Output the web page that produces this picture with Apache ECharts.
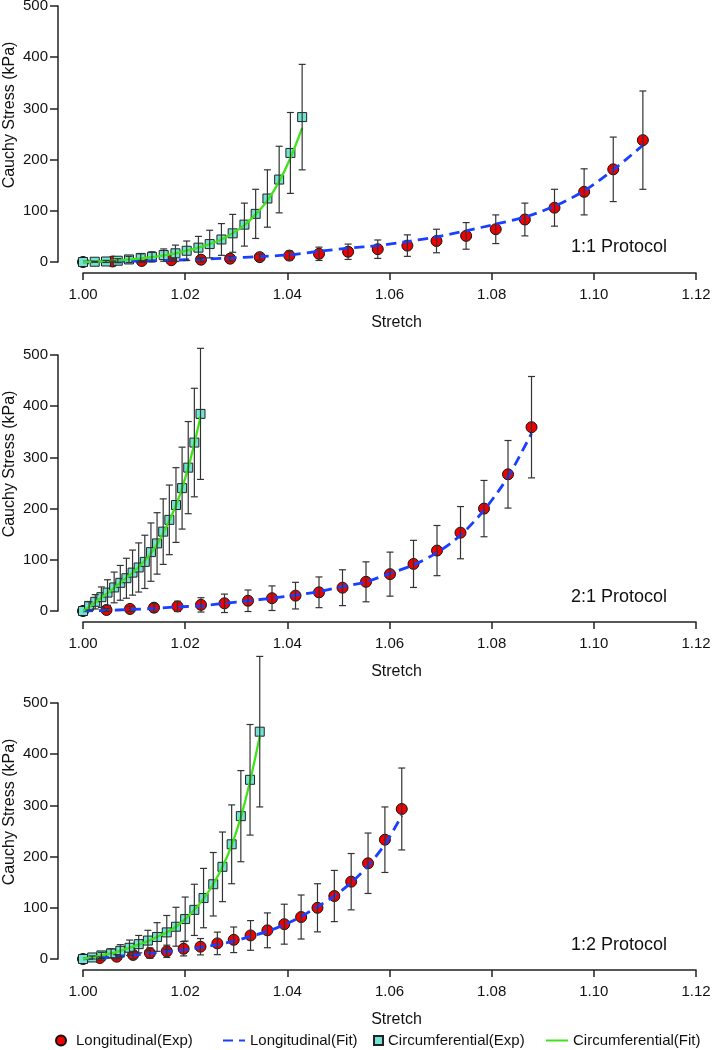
<!DOCTYPE html>
<html>
<head>
<meta charset="utf-8">
<script src="https://cdn.jsdelivr.net/npm/echarts@6/dist/echarts.min.js"></script>
<style>
html,body{margin:0;padding:0;background:#fff;}
#chart{width:713px;height:1050px;}
</style>
</head>
<body>
<div id="chart"></div>
<script>
// ---------- DATA ----------
const seriesNames = ['Longitudinal(Exp)', 'Longitudinal(Fit)', 'Circumferential(Exp)', 'Circumferential(Fit)'];
const protocols = ['1:1 Protocol', '2:1 Protocol', '1:2 Protocol'];
const xAxisTitle = 'Stretch';
const yAxisTitle = 'Cauchy Stress (kPa)';

// Panel 1 (1:1)
const long1X = [1.0000,1.0058,1.0115,1.0173,1.0231,1.0288,1.0346,1.0404,1.0462,1.0519,1.0577,1.0635,1.0692,1.0750,1.0808,1.0865,1.0923,1.0981,1.1038,1.1096];
const long1Y = [0,1,2,3.5,4.5,6.5,9.5,12.5,16,20,25,32,41,51,64,83,106,137,181,238];
const long1Err = [0,1,1,2,4,5,6,9,13,15,18,21,23,26,28,32,36,45,63,96];
const long1Fit = [0,1,2,3.5,5.5,8,10.5,14,21,27,32,40,49,61,74,88,109,139,180,228];
const circ1X = [1.0000,1.0023,1.0045,1.0068,1.0090,1.0113,1.0135,1.0158,1.0181,1.0203,1.0226,1.0248,1.0271,1.0293,1.0316,1.0338,1.0361,1.0384,1.0406,1.0429];
const circ1Y = [0,0.5,1,2.5,5,8,10,13.5,17,22,28,35,44,56,73,94,124,161,213,283];
const circ1Err = [0,1,2,4,6,8,10,12,16,19,22,27,31,37,42,48,56,65,79,103];
const circ1Fit = [0,0.5,1.5,3,5,7,9.5,13,17,22,28,35,44,56,72,93,120,157,203,262];

// Panel 2 (2:1)
const long2X = [1.0000,1.0046,1.0092,1.0139,1.0185,1.0231,1.0277,1.0323,1.0370,1.0416,1.0462,1.0508,1.0554,1.0601,1.0647,1.0693,1.0739,1.0785,1.0832,1.0878];
const long2Y = [0,2,4,6.5,9,12,15,20,25,30,36.5,45.5,57,72,92,118,153,200,267,359];
const long2Err = [0,3,5,8,10,14,18,21,24,26,30,35,39,43,46,49,51,55,66,99];
const long2Fit = [0,1,3,5,8,10,15,20,25,31,38,47.5,57,73.5,90,114,148,197,262,347];
const circ2X = [1.0000,1.0012,1.0024,1.0036,1.0048,1.0061,1.0073,1.0085,1.0097,1.0109,1.0121,1.0133,1.0145,1.0157,1.0169,1.0182,1.0194,1.0206,1.0218,1.0230];
const circ2Y = [0,10,18,27,36,46,55,64,75,85,96,115,132,155,178,207,240,280,329,385];
const circ2Err = [0,8,14,20,25,30,34,39,44,48,52,57,60,64,68,73,80,90,106,128];
const circ2Fit = [0,8,17,26,35,45,55,65,75,86,98,113,130,152,177,206,240,280,327,380];

// Panel 3 (1:2)
const long3X = [1.0000,1.0033,1.0066,1.0098,1.0131,1.0164,1.0197,1.0230,1.0263,1.0295,1.0328,1.0361,1.0394,1.0427,1.0459,1.0492,1.0525,1.0558,1.0591,1.0624];
const long3Y = [0,2,4.5,8,11.5,15,20,24,30.5,37.5,46,56,68,82,100,123,151,187,233,293];
const long3Err = [0,2,4,7,10,12,14,16,22,25,29,34,39,43,47,50,55,59,64,80];
const long3Fit = [0,2,4.5,7.5,11,14.5,18,22.5,28,35,44,54,67,83,102,123,149,182,224,280];
const circ3X = [1.0000,1.0018,1.0036,1.0055,1.0073,1.0091,1.0109,1.0127,1.0145,1.0164,1.0182,1.0200,1.0218,1.0236,1.0255,1.0273,1.0291,1.0309,1.0327,1.0346];
const circ3Y = [0,3,7,11,16,22,29,36,43,52,63,78,96,119,146,180,224,279,350,444];
const circ3Err = [0,3,6,9,12,15,17,20,28,33,38,43,50,58,62,68,77,89,108,147];
const circ3Fit = [0,3,7,11,16,22,28,35,43,52,63,78,96,118,146,180,222,277,347,435];

const xMin = 1.00, xMax = 1.12, xInterval = 0.02;
const yMin = 0, yMax = 500, yInterval = 100;

// ---------- CHART ----------
const panels = [
  {lx: long1X, ly: long1Y, le: long1Err, lf: long1Fit, cx: circ1X, cy: circ1Y, ce: circ1Err, cf: circ1Fit},
  {lx: long2X, ly: long2Y, le: long2Err, lf: long2Fit, cx: circ2X, cy: circ2Y, ce: circ2Err, cf: circ2Fit},
  {lx: long3X, ly: long3Y, le: long3Err, lf: long3Fit, cx: circ3X, cy: circ3Y, ce: circ3Err, cf: circ3Fit}
];

const FONT = '"Liberation Sans", Arial, Helvetica, sans-serif';
const TXT = '#111';
const AX = '#222';
const gridTops = [6, 355, 703];
const gridH = 256;
const titleTops = [238, 588, 936];

const zip = (xs, ys) => xs.map((x, i) => [x, ys[i]]);
const errData = (xs, ys, es) => xs.map((x, i) => [x, ys[i] - es[i], ys[i] + es[i]]).filter((d, i) => es[i] > 0);

function renderErr(params, api) {
  const x = api.value(0), lo = api.value(1), hi = api.value(2);
  const a = api.coord([x, hi]);
  const b = api.coord([x, lo]);
  const w = 3.5;
  const st = {stroke: '#333', lineWidth: 1.2};
  return {
    type: 'group',
    children: [
      {type: 'line', shape: {x1: a[0], y1: a[1], x2: b[0], y2: b[1]}, style: st},
      {type: 'line', shape: {x1: a[0] - w, y1: a[1], x2: a[0] + w, y2: a[1]}, style: st},
      {type: 'line', shape: {x1: b[0] - w, y1: b[1], x2: b[0] + w, y2: b[1]}, style: st}
    ]
  };
}

const grids = [], xAxes = [], yAxes = [], series = [];
panels.forEach((p, k) => {
  grids.push({left: 83, width: 613, top: gridTops[k], height: gridH, containLabel: false, outerBoundsMode: 'none'});
  xAxes.push({
    type: 'value', gridIndex: k, min: xMin, max: xMax, interval: xInterval, offset: 11,
    name: xAxisTitle, nameLocation: 'middle', nameGap: 42, nameMoveOverlap: false,
    nameTextStyle: {fontFamily: FONT, fontSize: 16, color: TXT, padding: [0, 0, 0, 14]},
    axisLine: {show: true, onZero: false, lineStyle: {color: AX, width: 1.5}},
    axisTick: {show: true, length: 7, lineStyle: {color: AX, width: 1.5}},
    axisLabel: {fontFamily: FONT, fontSize: 15, color: TXT, margin: 14, formatter: v => v.toFixed(2)},
    splitLine: {show: false}
  });
  yAxes.push({
    type: 'value', gridIndex: k, min: yMin, max: yMax, interval: yInterval, offset: 25,
    name: yAxisTitle, nameLocation: 'middle', nameGap: 40, nameRotate: 90, nameMoveOverlap: false,
    nameTextStyle: {fontFamily: FONT, fontSize: 16, color: TXT, padding: [0, 0, 0, 38]},
    axisLine: {show: true, onZero: false, lineStyle: {color: AX, width: 1.5}},
    axisTick: {show: true, length: 8, lineStyle: {color: AX, width: 1.5}},
    axisLabel: {fontFamily: FONT, fontSize: 15, color: TXT, margin: 10},
    splitLine: {show: false}
  });
  series.push({
    name: seriesNames[0], type: 'scatter', xAxisIndex: k, yAxisIndex: k,
    symbol: 'circle', symbolSize: 11, z: 2,
    itemStyle: {color: '#f20000', borderColor: '#111', borderWidth: 1, opacity: 1},
    data: zip(p.lx, p.ly)
  });
  series.push({
    name: seriesNames[2], type: 'scatter', xAxisIndex: k, yAxisIndex: k,
    symbol: 'rect', symbolSize: 9, z: 2,
    itemStyle: {color: '#72e3d3', borderColor: '#222', borderWidth: 1, opacity: 1},
    data: zip(p.cx, p.cy)
  });
  series.push({
    name: seriesNames[1], type: 'line', xAxisIndex: k, yAxisIndex: k,
    showSymbol: false, symbol: 'none', smooth: 0.3, z: 3,
    lineStyle: {color: '#1a40ff', width: 2.8, type: [10, 6]},
    itemStyle: {color: '#1a40ff', opacity: 0},
    data: zip(p.lx, p.lf)
  });
  series.push({
    name: seriesNames[3], type: 'line', xAxisIndex: k, yAxisIndex: k,
    showSymbol: false, symbol: 'none', smooth: 0.3, z: 3,
    lineStyle: {color: '#3ee31a', width: 2.3},
    itemStyle: {color: '#3ee31a', opacity: 0},
    data: zip(p.cx, p.cf)
  });
  series.push({
    type: 'custom', xAxisIndex: k, yAxisIndex: k, z: 4, clip: false,
    renderItem: renderErr, encode: {x: 0, y: [1, 2]},
    data: errData(p.lx, p.ly, p.le)
  });
  series.push({
    type: 'custom', xAxisIndex: k, yAxisIndex: k, z: 4, clip: false,
    renderItem: renderErr, encode: {x: 0, y: [1, 2]},
    data: errData(p.cx, p.cy, p.ce)
  });
});

const legTxt = {fontFamily: FONT, fontSize: 15, color: TXT};
const legends = [
  {data: [seriesNames[0]], left: 55, top: 1033, itemWidth: 20, itemHeight: 10},
  {data: [{name: seriesNames[1], itemStyle: {opacity: 0}}], left: 222, top: 1033, itemWidth: 22, itemHeight: 10},
  {data: [seriesNames[2]], left: 373, top: 1033, itemWidth: 9, itemHeight: 9},
  {data: [{name: seriesNames[3], itemStyle: {opacity: 0}}], left: 545, top: 1033, itemWidth: 22, itemHeight: 10}
].map(l => Object.assign({padding: 0, textStyle: legTxt, selectedMode: false}, l));

const titles = protocols.map((t, i) => ({
  text: t, left: 571, top: titleTops[i], padding: 0,
  textStyle: {fontFamily: FONT, fontSize: 18, fontWeight: 'normal', color: TXT}
}));

const chart = echarts.init(document.getElementById('chart'), null, {renderer: 'canvas'});
chart.setOption({
  backgroundColor: '#ffffff',
  animation: false,
  title: titles,
  legend: legends,
  grid: grids,
  xAxis: xAxes,
  yAxis: yAxes,
  series: series
});
</script>
</body>
</html>
